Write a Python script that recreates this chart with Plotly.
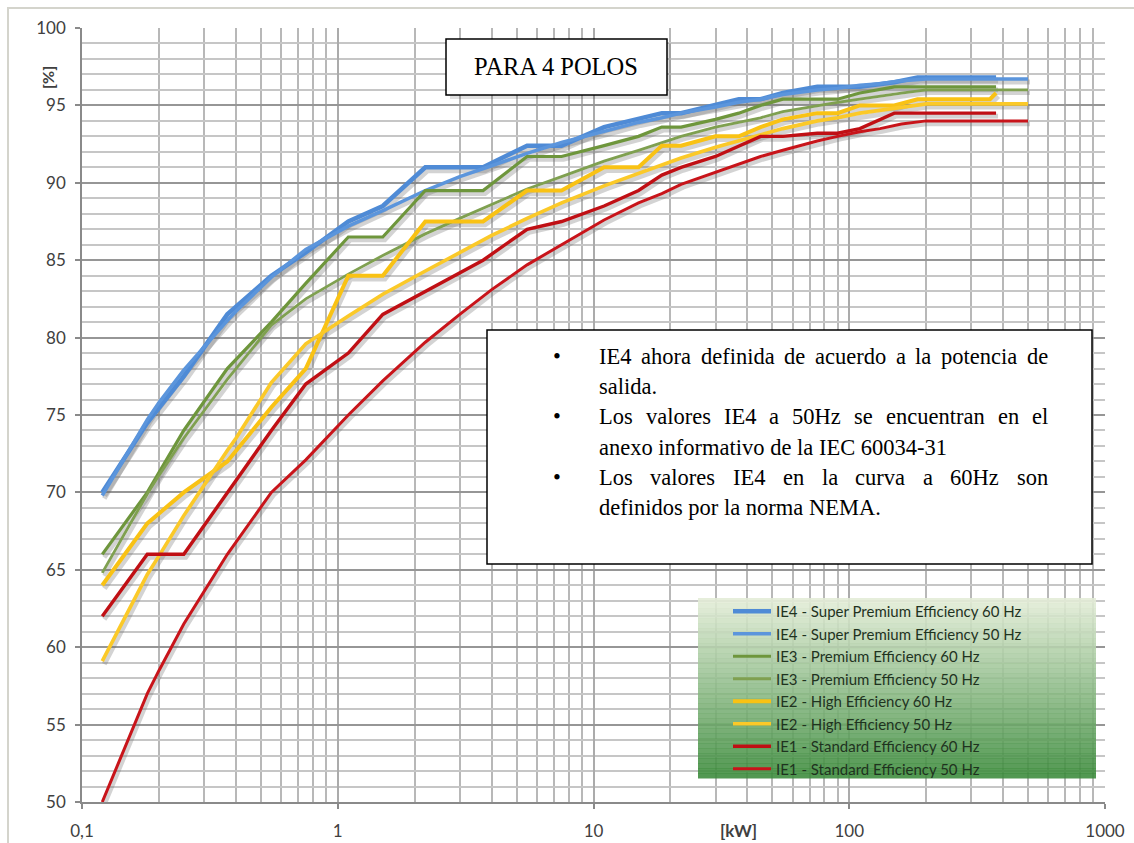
import plotly.graph_objects as go

# ---------------- data ----------------
kw_50 = [0.12, 0.18, 0.2, 0.25, 0.37, 0.4, 0.55, 0.75, 1.1, 1.5, 2.2, 3, 4, 5.5, 7.5,
         11, 15, 18.5, 22, 30, 37, 45, 55, 75, 90, 110, 132, 160, 200, 250, 315, 355,
         400, 450, 500]
kw_60 = [0.12, 0.18, 0.25, 0.37, 0.55, 0.75, 1.1, 1.5, 2.2, 3.7, 5.5, 7.5, 11, 15,
         18.5, 22, 30, 37, 45, 55, 75, 90, 110, 150, 185, 220, 250, 300, 330, 355, 375]

ie4_60 = [70.0, 74.5, 77.5, 81.5, 84.0, 85.5, 87.5, 88.5, 91.0, 91.0, 92.4, 92.4, 93.6,
          94.1, 94.5, 94.5, 95.0, 95.4, 95.4, 95.8, 96.2, 96.2, 96.2, 96.5, 96.8, 96.8,
          96.8, 96.8, 96.8, 96.8, 96.8]
ie4_50 = [69.8, 74.7, 75.8, 77.9, 81.1, 81.7, 83.9, 85.7, 87.2, 88.2, 89.5, 90.4, 91.1,
          91.9, 92.6, 93.3, 93.9, 94.2, 94.5, 94.9, 95.2, 95.4, 95.7, 96.0, 96.1, 96.3,
          96.4, 96.6, 96.7, 96.7, 96.7, 96.7, 96.7, 96.7, 96.7]
ie3_60 = [66.0, 70.0, 74.0, 78.0, 81.0, 83.5, 86.5, 86.5, 89.5, 89.5, 91.7, 91.7, 92.4,
          93.0, 93.6, 93.6, 94.1, 94.5, 95.0, 95.4, 95.4, 95.4, 95.8, 96.2, 96.2, 96.2,
          96.2, 96.2, 96.2, 96.2, 96.2]
ie3_50 = [64.8, 69.9, 71.1, 73.5, 77.3, 78.0, 80.8, 82.5, 84.1, 85.3, 86.7, 87.7, 88.6,
          89.6, 90.4, 91.4, 92.1, 92.6, 93.0, 93.6, 93.9, 94.2, 94.6, 95.0, 95.2, 95.4,
          95.6, 95.8, 96.0, 96.0, 96.0, 96.0, 96.0, 96.0, 96.0]
ie2_60 = [64.0, 68.0, 70.0, 72.0, 75.5, 78.0, 84.0, 84.0, 87.5, 87.5, 89.5, 89.5, 91.0,
          91.0, 92.4, 92.4, 93.0, 93.0, 93.6, 94.1, 94.5, 94.5, 95.0, 95.0, 95.4, 95.4,
          95.4, 95.4, 95.4, 95.4, 95.8]
ie2_50 = [59.1, 64.7, 65.9, 68.5, 72.7, 73.5, 77.1, 79.6, 81.4, 82.8, 84.3, 85.5, 86.6,
          87.7, 88.7, 89.8, 90.6, 91.2, 91.6, 92.3, 92.7, 93.1, 93.5, 94.0, 94.2, 94.5,
          94.7, 94.9, 95.1, 95.1, 95.1, 95.1, 95.1, 95.1, 95.1]
ie1_60 = [62.0, 66.0, 66.0, 70.0, 74.0, 77.0, 79.0, 81.5, 83.0, 85.0, 87.0, 87.5, 88.5,
          89.5, 90.5, 91.0, 91.7, 92.4, 93.0, 93.0, 93.2, 93.2, 93.5, 94.5, 94.5, 94.5,
          94.5, 94.5, 94.5, 94.5, 94.5]
ie1_50 = [50.0, 57.0, 58.5, 61.5, 66.0, 66.8, 70.0, 72.1, 75.0, 77.2, 79.7, 81.5, 83.1,
          84.7, 86.0, 87.6, 88.7, 89.3, 89.9, 90.7, 91.2, 91.7, 92.1, 92.7, 93.0, 93.3,
          93.5, 93.8, 94.0, 94.0, 94.0, 94.0, 94.0, 94.0, 94.0]

series_names = [
    "IE4 - Super Premium Efficiency 60 Hz",
    "IE4 - Super Premium Efficiency 50 Hz",
    "IE3 - Premium Efficiency 60 Hz",
    "IE3 - Premium Efficiency 50 Hz",
    "IE2 - High Efficiency 60 Hz",
    "IE2 - High Efficiency 50 Hz",
    "IE1 - Standard Efficiency 60 Hz",
    "IE1 - Standard Efficiency 50 Hz",
]

x_tickvals = [0.1, 1, 10, 100, 1000]
x_ticktext = ["0,1", "1", "10", "100", "1000"]
x_minor_vals = [k * 10.0 ** e for e in range(-1, 3) for k in range(2, 10)]
y_tickvals = [50, 55, 60, 65, 70, 75, 80, 85, 90, 95, 100]

title_text = "PARA 4 POLOS"
# (text, bullet?, justified?)
note_lines = [
    ("IE4 ahora definida de acuerdo a la potencia de", True, True),
    ("salida.", False, False),
    ("Los valores IE4 a 50Hz se encuentran en el", True, True),
    ("anexo informativo de la IEC 60034-31", False, False),
    ("Los valores IE4 en la curva a 60Hz son", True, True),
    ("definidos por la norma NEMA.", False, False),
]

# ---------------- layout helpers (pixel -> paper) ----------------
W, H = 1134, 843
L, R, T, B = 82, 1105, 28, 802


def pxx(x):
    return (x - L) / (R - L)


def pxy(y):
    return (B - y) / (B - T)


# approximate Times / Liberation Serif advance widths (per 1000 em)
TW = {' ': 250, 'a': 444, 'b': 500, 'c': 444, 'd': 500, 'e': 444, 'f': 333, 'g': 500,
      'h': 500, 'i': 278, 'j': 278, 'k': 500, 'l': 278, 'm': 778, 'n': 500, 'o': 500,
      'p': 500, 'q': 500, 'r': 333, 's': 389, 't': 278, 'u': 500, 'v': 500, 'w': 722,
      'x': 500, 'y': 500, 'z': 444, 'I': 333, 'E': 611, 'C': 667, 'L': 611, 'H': 722,
      'N': 722, 'M': 889, 'A': 722, '-': 333, '.': 250, ',': 250}


def text_w(s, size):
    return sum(TW.get(ch, 500) for ch in s) * size / 1000.0


styles = [
    dict(color="#4F8BD6", width=4.5),
    dict(color="#5B95DC", width=3.5),
    dict(color="#6E963C", width=3.2),
    dict(color="#7FA050", width=2.8),
    dict(color="#F9C214", width=4.0),
    dict(color="#FBC928", width=3.6),
    dict(color="#C00F14", width=3.4),
    dict(color="#C8141A", width=3.0),
]

xs = [kw_60, kw_50, kw_60, kw_50, kw_60, kw_50, kw_60, kw_50]
ys = [ie4_60, ie4_50, ie3_60, ie3_50, ie2_60, ie2_50, ie1_60, ie1_50]

fig = go.Figure()

# empty trace so the base subplot (grid, ticks, labels) always exists
fig.add_trace(go.Scatter(x=[None], y=[None], mode="lines", showlegend=False,
                         hoverinfo="skip", xaxis="x", yaxis="y"))

# soft shadows (drawn on a slightly shifted overlay axis pair)
for x, y, st in zip(xs, ys, styles):
    fig.add_trace(go.Scatter(x=x, y=y, mode="lines", xaxis="x2", yaxis="y2",
                             line=dict(color="rgba(110,110,110,0.30)", width=st["width"] + 1.5),
                             showlegend=False, hoverinfo="skip"))

# main series
for x, y, st, name in zip(xs, ys, styles, series_names):
    fig.add_trace(go.Scatter(x=x, y=y, mode="lines", name=name, xaxis="x3", yaxis="y3",
                             line=dict(color=st["color"], width=st["width"])))

dx = 2 / (R - L) * 4          # 2 px in decades
dy = 3 / (B - T) * 50         # 3 px in %

axis_common = dict(showline=False, showgrid=False, zeroline=False, showticklabels=False,
                   ticks="", automargin=False)

shapes = []
# legend gradient background
lx0, lx1, ly0, ly1 = 698, 1096, 598, 778
n = 36
c0 = (226, 236, 214)
c1 = (58, 138, 58)
for i in range(n):
    t = i / (n - 1)
    c = tuple(int(round(c0[k] + (c1[k] - c0[k]) * t)) for k in range(3))
    ya = ly0 + (ly1 - ly0) * i / n
    yb = ly0 + (ly1 - ly0) * (i + 1) / n
    shapes.append(dict(type="rect", xref="paper", yref="paper", layer="above",
                       x0=pxx(lx0), x1=pxx(lx1), y0=pxy(yb + 0.5), y1=pxy(ya),
                       fillcolor="rgba(%d,%d,%d,0.88)" % c, line=dict(width=0)))

# title box (with soft shadow)
shapes.append(dict(type="rect", xref="paper", yref="paper", layer="above",
                   x0=pxx(450), x1=pxx(671), y0=pxy(99), y1=pxy(43),
                   fillcolor="rgba(0,0,0,0.12)", line=dict(width=0)))
shapes.append(dict(type="rect", xref="paper", yref="paper", layer="above",
                   x0=pxx(446), x1=pxx(667), y0=pxy(95), y1=pxy(39),
                   fillcolor="white", line=dict(color="black", width=1.5)))
# notes box
shapes.append(dict(type="rect", xref="paper", yref="paper", layer="above",
                   x0=pxx(487), x1=pxx(1092), y0=pxy(564), y1=pxy(330),
                   fillcolor="white", line=dict(color="black", width=1.5)))
# outer frame
shapes.append(dict(type="rect", xref="paper", yref="paper", layer="below",
                   x0=pxx(8), x1=pxx(1136), y0=pxy(845), y1=pxy(8),
                   fillcolor="rgba(0,0,0,0)", line=dict(color="#D4D4CC", width=2)))

annotations = []
annotations.append(dict(text=title_text, xref="paper", yref="paper", x=pxx(556), y=pxy(67),
                        xanchor="center", yanchor="middle", showarrow=False,
                        font=dict(family="Liberation Serif", size=24.5, color="black")))

fs = 22.5
serif = dict(family="Liberation Serif", size=fs, color="black")
x_left, x_right = 597, 1046
y_line = 356
for text, bullet, justify in note_lines:
    if bullet:
        annotations.append(dict(text="•", xref="paper", yref="paper", x=pxx(557), y=pxy(y_line),
                                xanchor="center", yanchor="middle", showarrow=False, font=serif))
    if justify:
        words = text.split(" ")
        widths = [text_w(w, fs) for w in words]
        gap = (x_right - x_left - sum(widths)) / (len(words) - 1)
        xpos = x_left
        for w, wd in zip(words, widths):
            annotations.append(dict(text=w, xref="paper", yref="paper", x=pxx(xpos),
                                    y=pxy(y_line), xanchor="left", yanchor="middle",
                                    showarrow=False, font=serif))
            xpos += wd + gap
    else:
        annotations.append(dict(text=text, xref="paper", yref="paper", x=pxx(x_left),
                                y=pxy(y_line), xanchor="left", yanchor="middle",
                                showarrow=False, font=serif))
    y_line += 30.4

annotations.append(dict(text="<b>[%]</b>", xref="paper", yref="paper", x=pxx(48), y=pxy(78),
                        xanchor="center", yanchor="middle", textangle=-90, showarrow=False,
                        font=dict(family="Lato", size=16, color="#404040")))
annotations.append(dict(text="<b>[kW]</b>", xref="paper", yref="paper", x=pxx(738), y=pxy(831),
                        xanchor="center", yanchor="middle", showarrow=False,
                        font=dict(family="Lato", size=17, color="#404040")))

fig.update_layout(
    width=W, height=H,
    margin=dict(l=L, r=W - R, t=T, b=H - B, autoexpand=False),
    paper_bgcolor="white", plot_bgcolor="white",
    font=dict(family="Lato", size=17, color="#404040"),
    xaxis=dict(type="log", range=[-1, 3], tickmode="array", tickvals=x_tickvals,
               ticktext=x_ticktext, showgrid=True, gridcolor="#ABABAB", gridwidth=1.6,
               minor=dict(tickvals=x_minor_vals, showgrid=True, gridcolor="#B8B8B8",
                          gridwidth=1.5, ticks=""),
               ticks="outside", ticklen=5, tickcolor="#8A8A8A", tickwidth=1.5,
               showline=True, linecolor="#8A8A8A", linewidth=1.6, zeroline=False,
               ticklabelstandoff=8, automargin=False),
    yaxis=dict(range=[50, 100], tickmode="array", tickvals=y_tickvals,
               showgrid=True, gridcolor="#969696", gridwidth=1.6,
               minor=dict(dtick=1, showgrid=True, gridcolor="#C6C6C6", gridwidth=1.5, ticks=""),
               ticks="outside", ticklen=5, tickcolor="#8A8A8A", tickwidth=1.5,
               showline=True, linecolor="#8A8A8A", linewidth=1.6, zeroline=False,
               ticklabelstandoff=6, automargin=False),
    xaxis2=dict(type="log", range=[-1 - dx, 3 - dx], overlaying="x", **axis_common),
    yaxis2=dict(range=[50 + dy, 100 + dy], overlaying="y", **axis_common),
    xaxis3=dict(type="log", range=[-1, 3], overlaying="x", **axis_common),
    yaxis3=dict(range=[50, 100], overlaying="y", **axis_common),
    legend=dict(x=pxx(728), y=pxy(595), xanchor="left", yanchor="top",
                bgcolor="rgba(0,0,0,0)", borderwidth=0, itemwidth=38,
                font=dict(family="Lato", size=15, color="#1F331F"),
                traceorder="normal"),
    shapes=shapes,
    annotations=annotations,
    showlegend=True,
)

fig.write_html("out.html")
